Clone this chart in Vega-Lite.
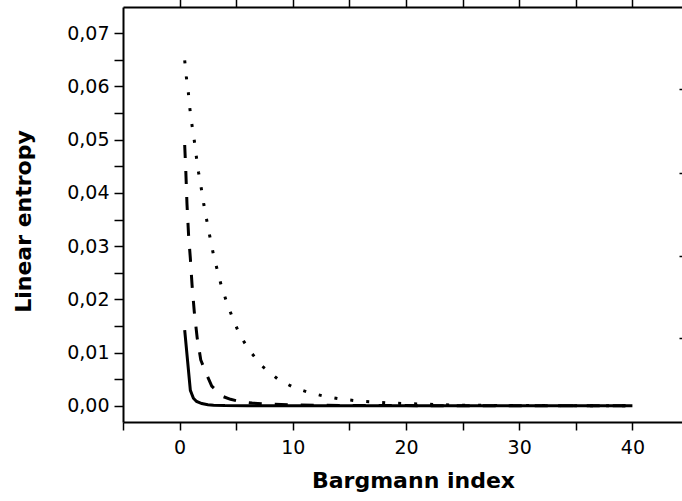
{
  "$schema": "https://vega.github.io/schema/vega-lite/v6.json",
  "autosize": {"type": "none"},
  "padding": {"left": 123, "top": 7, "right": 0, "bottom": 79},
  "width": 566,
  "height": 415,
  "background": "white",
  "config": {
    "view": {"stroke": null},
    "axis": {
      "domainColor": "black", "domainWidth": 2, "tickColor": "black", "tickWidth": 1.5,
      "labelColor": "black", "titleColor": "black", "grid": false,
      "labelFont": "DejaVu Sans", "titleFont": "DejaVu Sans",
      "labelFontSize": 19, "titleFontSize": 22, "titleFontWeight": "bold"
    }
  },
  "data": {"values": [
    {"series": "solid", "x": 0.45, "y": 0.0142},
    {"series": "solid", "x": 0.95, "y": 0.0029},
    {"series": "solid", "x": 1.22, "y": 0.0014},
    {"series": "solid", "x": 1.5, "y": 0.0008},
    {"series": "solid", "x": 1.96, "y": 0.0004},
    {"series": "solid", "x": 2.5, "y": 0.0002},
    {"series": "solid", "x": 3, "y": 0.0001},
    {"series": "solid", "x": 4, "y": 0.00003},
    {"series": "solid", "x": 6, "y": 0},
    {"series": "solid", "x": 10, "y": 0},
    {"series": "solid", "x": 20, "y": 0},
    {"series": "solid", "x": 30, "y": 0},
    {"series": "solid", "x": 40, "y": 0},
    {"series": "dashed", "x": 0.45, "y": 0.0490},
    {"series": "dashed", "x": 0.55, "y": 0.0440},
    {"series": "dashed", "x": 0.65, "y": 0.0380},
    {"series": "dashed", "x": 0.8, "y": 0.0318},
    {"series": "dashed", "x": 0.95, "y": 0.0277},
    {"series": "dashed", "x": 1.1, "y": 0.0227},
    {"series": "dashed", "x": 1.3, "y": 0.0176},
    {"series": "dashed", "x": 1.55, "y": 0.0128},
    {"series": "dashed", "x": 1.87, "y": 0.0086},
    {"series": "dashed", "x": 2.34, "y": 0.0061},
    {"series": "dashed", "x": 2.84, "y": 0.0037},
    {"series": "dashed", "x": 3.4, "y": 0.0025},
    {"series": "dashed", "x": 3.87, "y": 0.0017},
    {"series": "dashed", "x": 4.5, "y": 0.0012},
    {"series": "dashed", "x": 5.3, "y": 0.0008},
    {"series": "dashed", "x": 6.4, "y": 0.0005},
    {"series": "dashed", "x": 8, "y": 0.0003},
    {"series": "dashed", "x": 10, "y": 0.00015},
    {"series": "dashed", "x": 12, "y": 0.0001},
    {"series": "dashed", "x": 15, "y": 0.00005},
    {"series": "dashed", "x": 20, "y": 0.00002},
    {"series": "dashed", "x": 25, "y": 0},
    {"series": "dashed", "x": 30, "y": 0},
    {"series": "dashed", "x": 35, "y": 0},
    {"series": "dashed", "x": 40, "y": 0},
    {"series": "dotted", "x": 0.45, "y": 0.0649},
    {"series": "dotted", "x": 0.59, "y": 0.0619},
    {"series": "dotted", "x": 0.77, "y": 0.0589},
    {"series": "dotted", "x": 0.91, "y": 0.0558},
    {"series": "dotted", "x": 1.09, "y": 0.0528},
    {"series": "dotted", "x": 1.30, "y": 0.0498},
    {"series": "dotted", "x": 1.48, "y": 0.0468},
    {"series": "dotted", "x": 1.68, "y": 0.0438},
    {"series": "dotted", "x": 1.92, "y": 0.0408},
    {"series": "dotted", "x": 2.15, "y": 0.0377},
    {"series": "dotted", "x": 2.41, "y": 0.0347},
    {"series": "dotted", "x": 2.68, "y": 0.0317},
    {"series": "dotted", "x": 2.98, "y": 0.0285},
    {"series": "dotted", "x": 3.33, "y": 0.0255},
    {"series": "dotted", "x": 3.68, "y": 0.0226},
    {"series": "dotted", "x": 4.15, "y": 0.0195},
    {"series": "dotted", "x": 4.68, "y": 0.0165},
    {"series": "dotted", "x": 5.30, "y": 0.0134},
    {"series": "dotted", "x": 6.12, "y": 0.0105},
    {"series": "dotted", "x": 7.31, "y": 0.0074},
    {"series": "dotted", "x": 8.68, "y": 0.0050},
    {"series": "dotted", "x": 10.10, "y": 0.0034},
    {"series": "dotted", "x": 11.55, "y": 0.0024},
    {"series": "dotted", "x": 12.96, "y": 0.0017},
    {"series": "dotted", "x": 14.4, "y": 0.0012},
    {"series": "dotted", "x": 15.8, "y": 0.0009},
    {"series": "dotted", "x": 17.2, "y": 0.0007},
    {"series": "dotted", "x": 18.6, "y": 0.0005},
    {"series": "dotted", "x": 20.05, "y": 0.0004},
    {"series": "dotted", "x": 21.5, "y": 0.0003},
    {"series": "dotted", "x": 22.9, "y": 0.0002},
    {"series": "dotted", "x": 25, "y": 0.0001},
    {"series": "dotted", "x": 30, "y": 0.00003},
    {"series": "dotted", "x": 35, "y": 0.00001},
    {"series": "dotted", "x": 40, "y": 0}
  ]},
  "layer": [
    {
      "transform": [{"filter": "datum.series === 'dotted'"}],
      "mark": {"type": "line", "color": "black", "strokeWidth": 3, "strokeDash": [3, 13]},
      "encoding": {
        "x": {"field": "x", "type": "quantitative", "scale": {"domain": [-5, 45], "nice": false, "zero": false},
          "axis": {"orient": "bottom", "title": "Bargmann index", "values": [-5, 0, 5, 10, 15, 20, 25, 30, 35, 40, 45],
            "labelExpr": "datum.value % 10 === 0 && datum.value >= 0 && datum.value <= 40 ? datum.label : ''",
            "tickSize": 8, "labelPadding": 8, "labelFlush": false, "labelOverlap": false,
            "titleX": 290, "titleY": 65, "titleBaseline": "alphabetic", "titleAlign": "center",
            "encode": {"ticks": {"update": {"y2": {"signal": "datum.value % 10 === 0 ? 8 : 4"}}}}}},
        "y": {"field": "y", "type": "quantitative", "scale": {"domain": [-0.00306, 0.07494], "nice": false, "zero": false},
          "axis": {"orient": "left", "title": "Linear entropy",
            "values": [0, 0.005, 0.01, 0.015, 0.02, 0.025, 0.03, 0.035, 0.04, 0.045, 0.05, 0.055, 0.06, 0.065, 0.07],
            "labelExpr": "abs(datum.value*100 - round(datum.value*100)) < 0.01 ? replace(format(datum.value, '.2f'), '.', ',') : ''",
            "tickSize": 9, "labelPadding": 5, "labelFlush": false, "labelOverlap": false,
            "titleX": -93, "titleY": 214, "titleAngle": -90, "titleBaseline": "alphabetic", "titleAlign": "center",
            "encode": {"ticks": {"update": {"x2": {"signal": "abs(datum.value*100 - round(datum.value*100)) < 0.01 ? -9 : -5"}}}}}}
      }
    },
    {
      "transform": [{"filter": "datum.series === 'dashed'"}],
      "mark": {"type": "line", "color": "black", "strokeWidth": 3, "strokeDash": [13, 13]},
      "encoding": {
        "x": {"field": "x", "type": "quantitative", "scale": {"domain": [-5, 45], "nice": false, "zero": false},
          "axis": {"orient": "top", "title": null, "labels": false, "values": [0, 5, 10, 15, 20, 25, 30, 35, 40, 45],
            "tickSize": 9,
            "encode": {"ticks": {"update": {"y2": {"signal": "datum.value % 10 === 0 ? 4 : 9"}}}}}},
        "y": {"field": "y", "type": "quantitative", "scale": {"domain": [-0.00306, 0.07494], "nice": false, "zero": false},
          "axis": {"orient": "right", "title": null, "labels": false, "values": [0.0127, 0.0281, 0.0438, 0.0595], "tickSize": -10}}
      }
    },
    {
      "transform": [{"filter": "datum.series === 'solid'"}],
      "mark": {"type": "line", "color": "black", "strokeWidth": 3},
      "encoding": {
        "x": {"field": "x", "type": "quantitative", "scale": {"domain": [-5, 45], "nice": false, "zero": false}, "axis": null},
        "y": {"field": "y", "type": "quantitative", "scale": {"domain": [-0.00306, 0.07494], "nice": false, "zero": false}, "axis": null}
      }
    }
  ],
  "resolve": {"axis": {"x": "independent", "y": "independent"}}
}
